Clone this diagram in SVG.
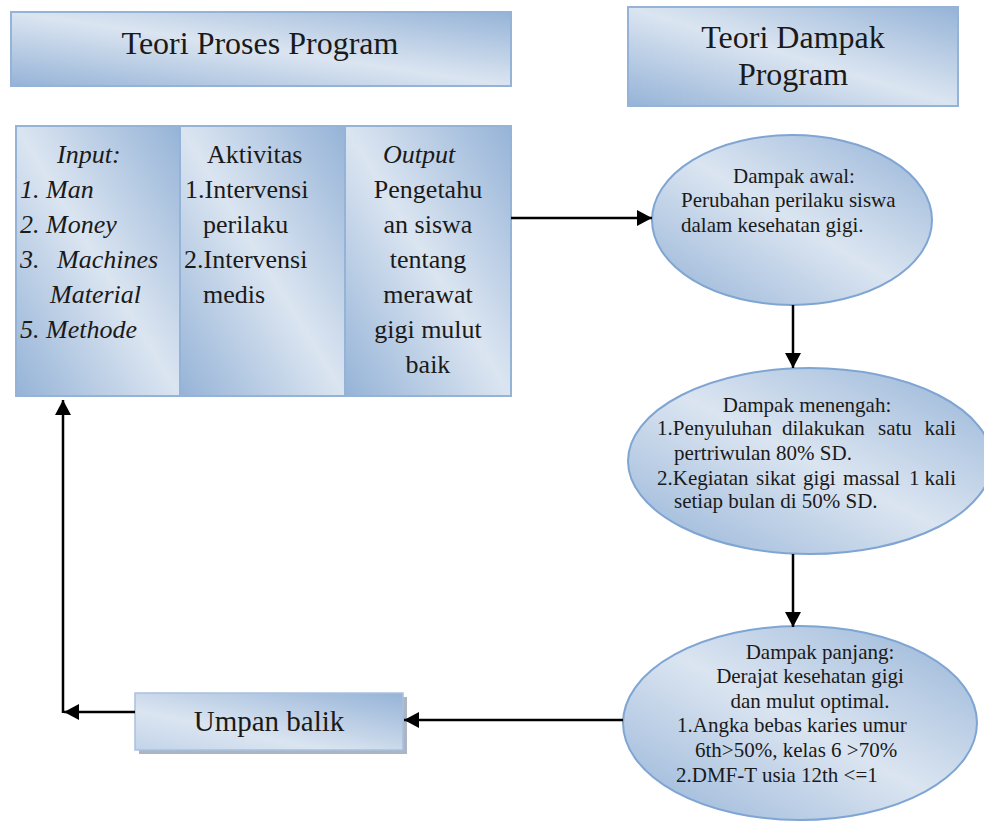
<svg xmlns="http://www.w3.org/2000/svg" width="984" height="823" viewBox="0 0 984 823">
<style>
  text { font-family: "Liberation Serif", "Times New Roman", serif; fill: #1a1a1a; }
  .title { font-size: 32px; text-anchor: middle; }
  .p { font-size: 26px; }
  .it { font-style: italic; }
  .mid { text-anchor: middle; }
  .end { text-anchor: end; }
  .e { font-size: 21px; }
  .box { fill: url(#g); stroke: #95b3d7; stroke-width: 2; }
  .ell { fill: url(#g); stroke: #7fa5d3; stroke-width: 2; }
  .con { fill: none; stroke: #000; stroke-width: 2.5; }
</style>
<defs>
  <linearGradient id="g" x1="0" y1="1" x2="1" y2="0">
    <stop offset="0" stop-color="#95b3d7"/>
    <stop offset="0.5" stop-color="#dbe5f1"/>
    <stop offset="1" stop-color="#95b3d7"/>
  </linearGradient>
  <linearGradient id="g2" x1="0" y1="1" x2="1" y2="0">
    <stop offset="0" stop-color="#c2d3e9"/>
    <stop offset="0.35" stop-color="#dbe5f1"/>
    <stop offset="1" stop-color="#95b3d7"/>
  </linearGradient>
  <marker id="ah" markerWidth="16" markerHeight="16" refX="15" refY="8" orient="auto" markerUnits="userSpaceOnUse">
    <path d="M0,0 L15,8 L0,16 Z" fill="#000"/>
  </marker>
</defs>

<g id="teori-proses">
  <rect class="box" x="11" y="12" width="500" height="74"/>
  <text class="title" x="260" y="54">Teori Proses Program</text>
</g>

<g id="teori-dampak">
  <rect class="box" x="628" y="7" width="330" height="99"/>
  <text class="title" x="793" y="48">Teori Dampak</text>
  <text class="title" x="793" y="85">Program</text>
</g>

<g id="input">
  <rect class="box" x="16" y="126" width="164" height="270"/>
  <text class="p it" x="57" y="163">Input:</text>
  <text class="p it" x="20" y="198">1. Man</text>
  <text class="p it" x="20" y="233">2. Money</text>
  <text class="p it" x="20" y="268">3.</text>
  <text class="p it" x="57" y="268">Machines</text>
  <text class="p it" x="50" y="303">Material</text>
  <text class="p it" x="20" y="338">5. Methode</text>
</g>

<g id="aktivitas">
  <rect class="box" x="180" y="126" width="165" height="270"/>
  <text class="p" x="207" y="163">Aktivitas</text>
  <text class="p" x="185" y="198">1.Intervensi</text>
  <text class="p" x="203" y="233">perilaku</text>
  <text class="p" x="184" y="268">2.Intervensi</text>
  <text class="p" x="203" y="303">medis</text>
</g>

<g id="output">
  <rect class="box" x="345" y="126" width="166" height="270"/>
  <text class="p it" x="383" y="163">Output</text>
  <text class="p mid" x="428" y="198">Pengetahu</text>
  <text class="p mid" x="428" y="233">an siswa</text>
  <text class="p mid" x="428" y="268">tentang</text>
  <text class="p mid" x="428" y="303">merawat</text>
  <text class="p mid" x="428" y="338">gigi mulut</text>
  <text class="p mid" x="428" y="373">baik</text>
</g>

<g id="dampak-awal">
  <ellipse class="ell" cx="792" cy="220" rx="140" ry="85"/>
  <text class="e mid" x="794" y="183">Dampak awal:</text>
  <text class="e" x="681" y="207">Perubahan perilaku siswa</text>
  <text class="e" x="681" y="232">dalam kesehatan gigi.</text>
</g>

<g id="dampak-menengah">
  <ellipse class="ell" cx="810" cy="461" rx="182" ry="93"/>
  <text class="e mid" x="807" y="412">Dampak menengah:</text>
  <text class="e" x="657" y="435">1.Penyuluhan</text>
  <text class="e" x="782" y="435">dilakukan</text>
  <text class="e" x="878" y="435">satu</text>
  <text class="e end" x="956" y="435">kali</text>
  <text class="e" x="674" y="460">pertriwulan 80% SD.</text>
  <text class="e" x="657" y="485">2.Kegiatan</text>
  <text class="e" x="756" y="485">sikat</text>
  <text class="e" x="803" y="485">gigi</text>
  <text class="e" x="843" y="485">massal</text>
  <text class="e" x="909" y="485">1</text>
  <text class="e end" x="956" y="485">kali</text>
  <text class="e" x="674" y="508">setiap bulan di 50% SD.</text>
</g>

<g id="dampak-panjang">
  <ellipse class="ell" cx="800" cy="723" rx="177" ry="97"/>
  <text class="e mid" x="820" y="659">Dampak panjang:</text>
  <text class="e mid" x="810" y="683">Derajat kesehatan gigi</text>
  <text class="e mid" x="810" y="708">dan mulut optimal.</text>
  <text class="e" x="677" y="732">1.Angka bebas karies umur</text>
  <text class="e" x="695" y="757">6th&gt;50%, kelas 6 &gt;70%</text>
  <text class="e" x="676" y="782">2.DMF-T usia 12th &lt;=1</text>
</g>

<g id="umpan-balik">
  <rect x="139" y="697" width="268" height="57" fill="#8896aa" opacity="0.7"/>
  <rect x="135" y="693" width="268" height="57" fill="url(#g2)" stroke="#a9c0de" stroke-width="1.5"/>
  <text class="mid" x="269" y="731" style="font-size:29px">Umpan balik</text>
</g>

<g id="connectors">
  <path class="con" d="M511,218 H652" marker-end="url(#ah)"/>
  <path class="con" d="M793,305 V368" marker-end="url(#ah)"/>
  <path class="con" d="M793,554 V627" marker-end="url(#ah)"/>
  <path class="con" d="M623,720 H404" marker-end="url(#ah)"/>
  <path class="con" d="M135,712 H64" marker-end="url(#ah)"/>
  <path class="con" d="M63,713 V400" marker-end="url(#ah)"/>
</g>
</svg>
